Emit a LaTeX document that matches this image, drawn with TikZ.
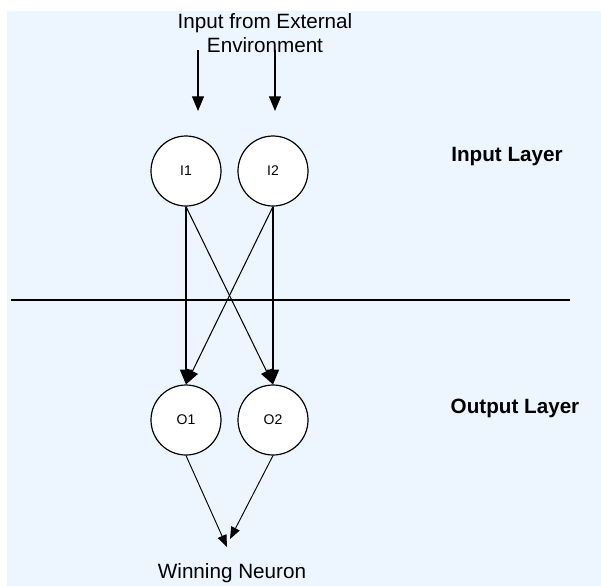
\documentclass[tikz,border=0pt]{standalone}
\usepackage{fontspec}
\setmainfont{Liberation Sans}
\usetikzlibrary{arrows.meta}

\begin{document}
\begin{tikzpicture}[
  x=0.75pt, y=-0.75pt,
  neuron/.style={circle, draw, fill=white, line width=0.9pt, minimum size=52.5pt, inner sep=0, font=\fontsize{10.5}{12}\selectfont},
  layer/.style={font=\fontsize{15.5}{18}\selectfont\bfseries},
  link/.style={draw, line width=0.8pt, -{Triangle[length=11pt, width=9pt]}},
  vote/.style={draw, line width=0.7pt, -{Triangle[length=9pt, width=7pt]}}
]
\useasboundingbox (0,0) rectangle (601,586);
\fill[white] (0,0) rectangle (601,586);
\fill[blue!50!cyan!7] (7,11) rectangle (601,586);

% input from outside
\node[align=center, font=\fontsize{15.5}{17.5}\selectfont] (ext) at (265,33) {Input from External\\Environment};
\coordinate (in1s) at (198,50);
\coordinate (in1e) at (198,111);
\coordinate (in2s) at (275,50);
\coordinate (in2e) at (275,111);
\draw[link] (in1s) -- (in1e);
\draw[link] (in2s) -- (in2e);

% neurons
\node[neuron] (I1) at (186,171) {I1};
\node[neuron] (I2) at (273,171) {I2};
\node[neuron] (O1) at (186,420) {O1};
\node[neuron] (O2) at (273,420) {O2};

\node[layer] (inlayer) at (507,157) {Input Layer};
\node[layer] (outlayer) at (515,408) {Output Layer};

% layer separator
\coordinate (sepL) at (11,300);
\coordinate (sepR) at (570,300);
\draw[line width=2.2pt] (sepL) -- (sepR);

\draw[link] (I1.south) -- (O1.north);
\draw[link] (I1.south) -- (O2.north);
\draw[link] (I2.south) -- (O1.north);
\draw[link] (I2.south) -- (O2.north);

% competition
\coordinate (w1) at (227,547);
\coordinate (w2) at (230,539);
\draw[vote] (O1.south) -- (w1);
\draw[vote] (O2.south) -- (w2);
\node[font=\fontsize{15.5}{18}\selectfont, inner sep=1pt] (win) at (232,573) {Winning Neuron};
\end{tikzpicture}
\end{document}
